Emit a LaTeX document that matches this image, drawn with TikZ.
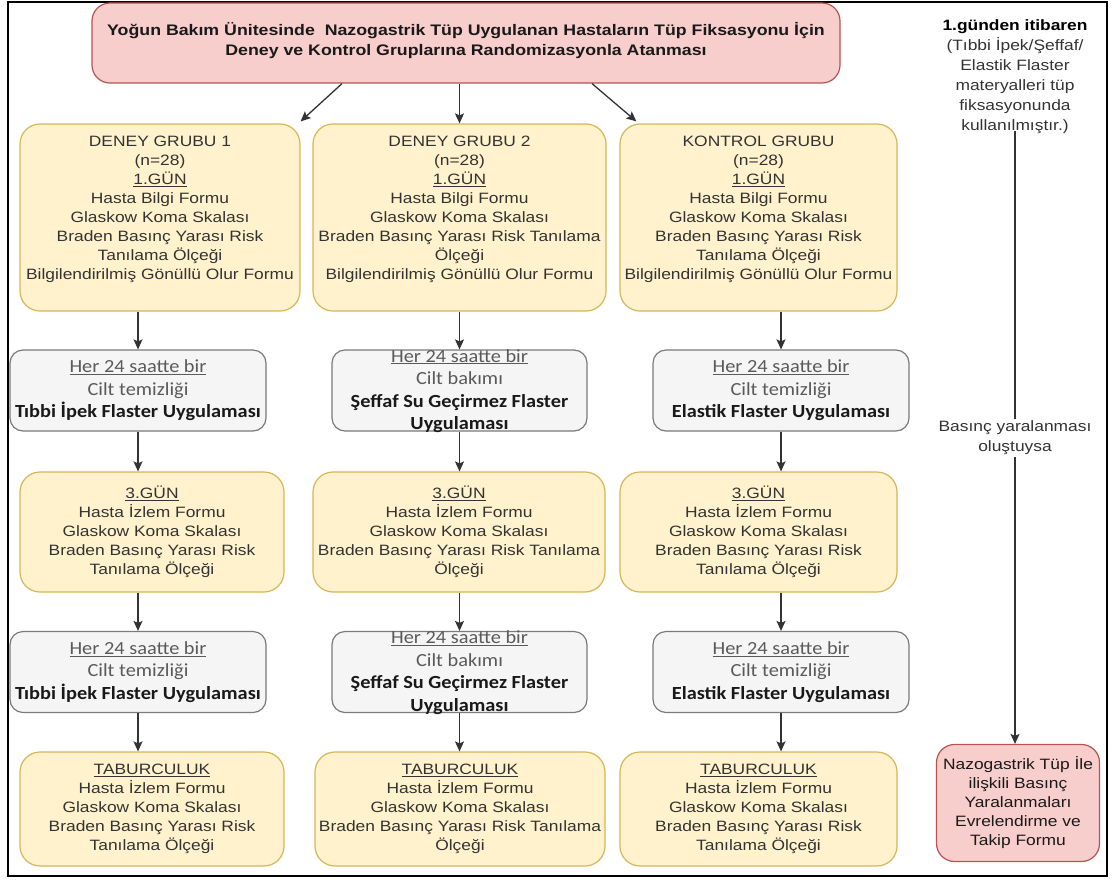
\documentclass[tikz,border=0pt]{standalone}
\usepackage{fontspec}
\newfontfamily\af{Liberation Sans}[FakeStretch=1.16]
\newfontfamily\cf{Carlito}[FakeStretch=1.1]
\usetikzlibrary{arrows.meta}
\definecolor{yfill}{HTML}{FFF2CC}
\definecolor{ydraw}{HTML}{D6B656}
\definecolor{pfill}{HTML}{F8CECC}
\definecolor{pdraw}{HTML}{B85450}
\definecolor{gfill}{HTML}{F5F5F5}
\definecolor{gdraw}{HTML}{7A7A7A}
\definecolor{txt}{HTML}{333333}
\definecolor{gtxt}{HTML}{5A5A5A}
\definecolor{ln}{HTML}{333333}
\newcommand{\gl}[1]{{\color{gtxt}#1}}
\begin{document}
\begin{tikzpicture}[x=1pt,y=-1pt,
  box/.style={draw, line width=1.2pt, align=center, inner sep=0pt},
  ybox/.style={box, fill=yfill, draw=ydraw, rounded corners=20pt, text=txt,
     font=\af\fontsize{15}{19}\selectfont},
  ytext/.style={align=center, inner sep=0pt, text=txt,
     font=\af\fontsize{15}{19}\selectfont},
  pbox/.style={box, fill=pfill, draw=pdraw, rounded corners=18pt, text=black!90,
     font=\af\fontsize{15}{19}\selectfont},
  ptext/.style={align=center, inner sep=0pt, text=black!90,
     font=\af\fontsize{15.3}{20}\selectfont\bfseries},
  gbox/.style={box, fill=gfill, draw=gdraw, rounded corners=13pt, text=black!90,
     font=\cf\fontsize{18.5}{22.5}\selectfont},
  gtext/.style={align=center, inner sep=0pt, text=black!90,
     font=\cf\fontsize{18.5}{22.5}\selectfont},
  plain/.style={align=center, inner sep=0pt, text=txt,
     font=\af\fontsize{15}{20}\selectfont},
  arr/.style={draw=ln, line width=1.3pt, -{Stealth[length=10pt,width=9pt,inset=2pt]}},
  conn/.style={draw=ln, line width=1.3pt},
]
\useasboundingbox (0,0) rectangle (1115,879);
\fill[white] (0,0) rectangle (1115,879);
\draw[line width=1.6pt, black] (8,2) rectangle (1107,876);

% top box
\node[pbox, minimum width=748pt, minimum height=80pt] (T) at (466,43) {};
\node[ptext] (Tt) at (466,40.5)
  {Yoğun Bakım Ünitesinde\ \ Nazogastrik Tüp Uygulanan Hastaların Tüp Fiksasyonu İçin\\
   Deney ve Kontrol Gruplarına Randomizasyonla Atanması};

% row A
\node[ybox, minimum width=280pt, minimum height=187pt] (A1) at (160,217.5) {};
\node[ytext] (A1t) at (160,209)
  {DENEY GRUBU 1\\(n=28)\\\underline{1.GÜN}\\Hasta Bilgi Formu\\Glaskow Koma Skalası\\Braden Basınç Yarası Risk\\Tanılama Ölçeği\\Bilgilendirilmiş Gönüllü Olur Formu};
\node[ybox, minimum width=293pt, minimum height=187pt] (A2) at (459.5,217.5) {};
\node[ytext] (A2t) at (459.5,209)
  {DENEY GRUBU 2\\(n=28)\\\underline{1.GÜN}\\Hasta Bilgi Formu\\Glaskow Koma Skalası\\Braden Basınç Yarası Risk Tanılama\\Ölçeği\\Bilgilendirilmiş Gönüllü Olur Formu};
\node[ybox, minimum width=277pt, minimum height=187pt] (A3) at (758.5,217.5) {};
\node[ytext] (A3t) at (758.5,209)
  {KONTROL GRUBU\\(n=28)\\\underline{1.GÜN}\\Hasta Bilgi Formu\\Glaskow Koma Skalası\\Braden Basınç Yarası Risk\\Tanılama Ölçeği\\Bilgilendirilmiş Gönüllü Olur Formu};

% row B
\node[gbox, minimum width=256pt, minimum height=81pt] (B1) at (138,390.5)
  {\gl{\underline{Her 24 saatte bir}}\\\gl{Cilt temizliği}\\\bfseries Tıbbi İpek Flaster Uygulaması};
\node[gbox, minimum width=255pt, minimum height=81pt] (B2) at (459.5,390.5) {};
\node[gtext] (B2t) at (459.5,391)
  {\gl{\underline{Her 24 saatte bir}}\\\gl{Cilt bakımı}\\\bfseries Şeffaf Su Geçirmez Flaster\\\bfseries Uygulaması};
\node[gbox, minimum width=256pt, minimum height=81pt] (B3) at (781,390.5)
  {\gl{\underline{Her 24 saatte bir}}\\\gl{Cilt temizliği}\\\bfseries Elastik Flaster Uygulaması};

% row C
\node[ybox, minimum width=264pt, minimum height=120pt] (C1) at (152,532)
  {\underline{3.GÜN}\\Hasta İzlem Formu\\Glaskow Koma Skalası\\Braden Basınç Yarası Risk\\Tanılama Ölçeği};
\node[ybox, minimum width=292pt, minimum height=120pt] (C2) at (459,532)
  {\underline{3.GÜN}\\Hasta İzlem Formu\\Glaskow Koma Skalası\\Braden Basınç Yarası Risk Tanılama\\Ölçeği};
\node[ybox, minimum width=277pt, minimum height=120pt] (C3) at (758.5,532)
  {\underline{3.GÜN}\\Hasta İzlem Formu\\Glaskow Koma Skalası\\Braden Basınç Yarası Risk\\Tanılama Ölçeği};

% row D
\node[gbox, minimum width=256pt, minimum height=81pt] (D1) at (138,672)
  {\gl{\underline{Her 24 saatte bir}}\\\gl{Cilt temizliği}\\\bfseries Tıbbi İpek Flaster Uygulaması};
\node[gbox, minimum width=255pt, minimum height=81pt] (D2) at (459.5,672) {};
\node[gtext] (D2t) at (459.5,672.5)
  {\gl{\underline{Her 24 saatte bir}}\\\gl{Cilt bakımı}\\\bfseries Şeffaf Su Geçirmez Flaster\\\bfseries Uygulaması};
\node[gbox, minimum width=256pt, minimum height=81pt] (D3) at (781,672)
  {\gl{\underline{Her 24 saatte bir}}\\\gl{Cilt temizliği}\\\bfseries Elastik Flaster Uygulaması};

% row E
\node[ybox, minimum width=264pt, minimum height=114pt] (E1) at (152,809)
  {\underline{TABURCULUK}\\Hasta İzlem Formu\\Glaskow Koma Skalası\\Braden Basınç Yarası Risk\\Tanılama Ölçeği};
\node[ybox, minimum width=290pt, minimum height=114pt] (E2) at (460,809)
  {\underline{TABURCULUK}\\Hasta İzlem Formu\\Glaskow Koma Skalası\\Braden Basınç Yarası Risk Tanılama\\Ölçeği};
\node[ybox, minimum width=277pt, minimum height=114pt] (E3) at (758.5,809)
  {\underline{TABURCULUK}\\Hasta İzlem Formu\\Glaskow Koma Skalası\\Braden Basınç Yarası Risk\\Tanılama Ölçeği};

% right side
\node[plain] (R) at (1015,77)
  {{\bfseries\color{black}1.günden itibaren}\\(Tıbbi İpek/Şeffaf/\\Elastik Flaster\\materyalleri tüp\\fiksasyonunda\\kullanılmıştır.)};
\node[plain, fill=white, inner sep=2pt] (L) at (1015,438) {Basınç yaralanması\\oluştuysa};
\node[pbox, minimum width=163pt, minimum height=117pt] (F) at (1018,803)
  {Nazogastrik Tüp İle\\ilişkili Basınç\\Yaralanmaları\\Evrelendirme ve\\Takip Formu};

% connectors
\draw[arr] ([xshift=-124pt]T.south) -- ([shift={(0pt,2pt)}]A1.north east);
\draw[arr] (T.south -| A2.north) -- (A2.north);
\draw[arr] ([xshift=126pt]T.south) -- ([shift={(17pt,2pt)}]A3.north west);

\foreach \c in {1,2,3}{
  \draw[arr] (B\c.north |- A\c.south) -- (B\c.north);
  \draw[arr] (B\c.south) -- (B\c.south |- C\c.north);
  \draw[arr] (D\c.north |- C\c.south) -- (D\c.north);
  \draw[arr] (D\c.south) -- (D\c.south |- E\c.north);
}
\draw[conn] ([yshift=3pt]R.south) -- (L.north);
\draw[arr] (L.south) -- (L.south |- F.north);
\end{tikzpicture}
\end{document}
